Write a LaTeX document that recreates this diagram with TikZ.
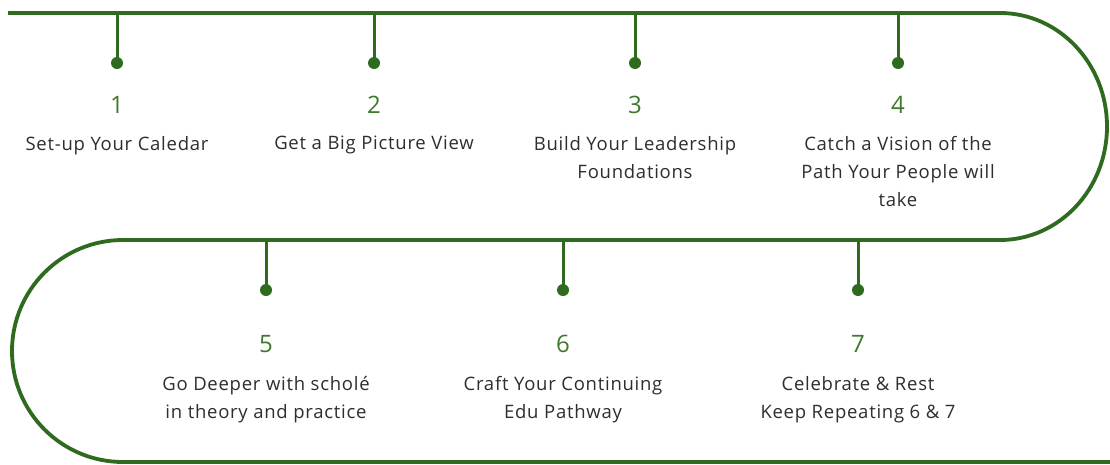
\documentclass[tikz,border=0pt]{standalone}
\usepackage{fontspec}
\setmainfont{Open Sans}
\newfontfamily\lblfont[LetterSpace=4]{Open Sans}
\definecolor{lgreen}{HTML}{2F6B1E}
\definecolor{ngreen}{HTML}{3F7A2C}
\definecolor{tgray}{HTML}{2E2E2E}
\begin{document}
\begin{tikzpicture}[x=1pt,y=-1pt,
  track/.style={draw=lgreen,line width=3.8pt},
  stem/.style={draw=lgreen,line width=3pt},
  dot/.style={circle,fill=lgreen,inner sep=0pt,minimum size=12pt},
  num/.style={text=ngreen,font=\fontsize{24}{26}\selectfont,anchor=base},
  lbl/.style={text=tgray,font=\lblfont\fontsize{18.5}{28}\selectfont,align=center,anchor=north,inner sep=0pt}]
\useasboundingbox (0,0) rectangle (1110,464);
\fill[white] (0,0) rectangle (1110,464);
% track
\coordinate (s) at (8,13);
\coordinate (r1) at (1000,13);
\coordinate (r2) at (1000,240);
\coordinate (l1) at (123,240);
\coordinate (l2) at (123,462);
\coordinate (e) at (1112,462);
\draw[track] (s) -- (r1) arc[start angle=-90,end angle=90,x radius=107,y radius=113.5]
  -- (l1) arc[start angle=-90,end angle=-270,x radius=111,y radius=111] -- (e);
% top stems
\foreach \i/\x in {1/117,2/374,3/635,4/898}{
  \coordinate (t\i) at (\x,13);
  \node[dot] (d\i) at (\x,63) {};
  \draw[stem] (t\i) -- (d\i.center);
  \node[num] (n\i) at (\x,113) {\i};
}
\foreach \i/\x in {5/266,6/563,7/858}{
  \coordinate (t\i) at (\x,240);
  \node[dot] (d\i) at (\x,290) {};
  \draw[stem] (t\i) -- (d\i.center);
  \node[num] (n\i) at (\x,352) {\i};
}
\node[lbl] (a1) at (117,136) {Set-up Your Caledar};
\node[lbl] (a2) at (374,136) {Get a Big Picture View};
\node[lbl] (a3) at (635,136) {Build Your Leadership\\Foundations};
\node[lbl] (a4) at (898,136) {Catch a Vision of the\\Path Your People will\\take};
\node[lbl] (a5) at (266,376) {Go Deeper with scholé\\in theory and practice};
\node[lbl] (a6) at (563,376) {Craft Your Continuing\\Edu Pathway};
\node[lbl] (a7) at (858,376) {Celebrate \& Rest\\Keep Repeating 6 \& 7};
\end{tikzpicture}
\end{document}
